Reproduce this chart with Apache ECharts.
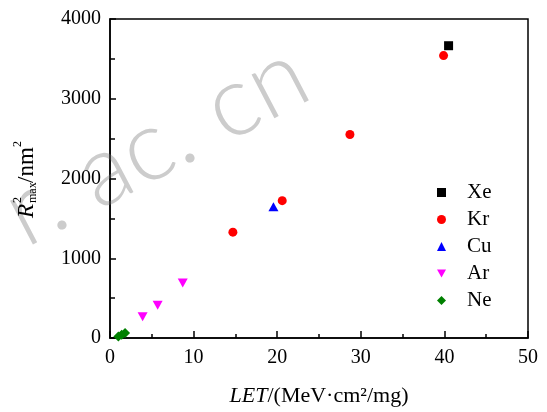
<!DOCTYPE html>
<html lang="en">
<head>
    <meta charset="UTF-8">
    <title>R2max vs LET</title>
    <script src="https://cdn.jsdelivr.net/npm/echarts@6/dist/echarts.min.js"></script>
    <style>
        html, body { margin: 0; padding: 0; background: #fff; }
    </style>
</head>
<body>
<div id="main" style="width: 547px;height:412px;"></div>
<script type="text/javascript">
    // 数据
    const ions = ["Xe", "Kr", "Cu", "Ar", "Ne"];
    const xeLET = [40.5];
    const xeR2 = [3665];
    const krLET = [14.7, 20.6, 28.7, 39.9];
    const krR2 = [1327, 1722, 2552, 3541];
    const cuLET = [19.55];
    const cuR2 = [1645];
    const arLET = [3.9, 5.7, 8.7];
    const arR2 = [265, 410, 690];
    const neLET = [1.0, 1.4, 1.8];
    const neR2 = [20, 40, 62];
    const xTicks = [0, 10, 20, 30, 40, 50];
    const yTicks = [0, 1000, 2000, 3000, 4000];

    const serif = "'Liberation Serif', 'Times New Roman', serif";

    function pairs(xs, ys) {
        return xs.map(function (x, i) {
            return [x, ys[i]];
        });
    }

    const seriesDefs = [
        {name: "Xe", data: pairs(xeLET, xeR2), symbol: "rect", symbolSize: 9, color: "#000000"},
        {name: "Kr", data: pairs(krLET, krR2), symbol: "circle", symbolSize: 9, color: "#ff0000"},
        {name: "Cu", data: pairs(cuLET, cuR2), symbol: "triangle", symbolSize: [10, 9], color: "#0000ff"},
        {name: "Ar", data: pairs(arLET, arR2), symbol: "path://M0,0 L10,0 L5,9 Z", symbolSize: [10, 9], color: "#ff00ff"},
        {name: "Ne", data: pairs(neLET, neR2), symbol: "diamond", symbolSize: 10, color: "#008000"}
    ];

    var myChart = echarts.init(document.getElementById('main'));
    myChart.setOption({
        animation: false,
        backgroundColor: "#fff",
        grid: {
            left: 110, right: 19, top: 19, bottom: 65,
            show: true, borderColor: "#000", borderWidth: 1.5
        },
        legend: {
            data: ions,
            orient: "vertical",
            left: 432,
            top: 177,
            itemWidth: 9,
            itemHeight: 9,
            itemGap: 6,
            textStyle: {fontFamily: serif, fontSize: 21, color: "#000", lineHeight: 20, padding: [0, 0, 0, 16]}
        },
        xAxis: {
            type: "value",
            min: xTicks[0],
            max: xTicks[xTicks.length - 1],
            interval: 10,
            name: "{i|LET}/(MeV·cm²/mg)",
            nameLocation: "middle",
            nameGap: 47,
            nameTextStyle: {
                fontFamily: serif, fontSize: 22, color: "#000",
                rich: {i: {fontFamily: serif, fontSize: 22, fontStyle: "italic", color: "#000"}}
            },
            axisLine: {show: true, lineStyle: {color: "#000", width: 1.5}},
            axisTick: {show: true, inside: true, length: 7, lineStyle: {color: "#000", width: 1.5}},
            minorTick: {show: true, splitNumber: 2, length: 4, lineStyle: {color: "#000", width: 1.5}},
            splitLine: {show: false},
            axisLabel: {fontFamily: serif, fontSize: 20, color: "#000", margin: 10}
        },
        yAxis: {
            type: "value",
            min: yTicks[0],
            max: yTicks[yTicks.length - 1],
            interval: 1000,
            axisLine: {show: true, lineStyle: {color: "#000", width: 1.5}},
            axisTick: {show: true, inside: true, length: 6, lineStyle: {color: "#000", width: 1.5}},
            minorTick: {show: true, splitNumber: 2, length: 5, lineStyle: {color: "#000", width: 1.5}},
            splitLine: {show: false},
            axisLabel: {
                fontFamily: serif, fontSize: 20, color: "#000", margin: 9,
                formatter: function (v) { return String(v); }
            }
        },
        graphic: [
            {
                // 水印
                type: "text",
                x: 11, y: 220,
                rotation: 0.482,
                z: 0,
                silent: true,
                style: {
                    text: "r. ac. cn",
                    fontFamily: "Lato, 'Liberation Sans', sans-serif",
                    fontWeight: 300,
                    fontSize: 99,
                    fill: "#cccccc",
                    textAlign: "left",
                    textVerticalAlign: "middle"
                }
            },
            {
                // 纵轴标题 R²max/nm²
                type: "group",
                x: 27, y: 218,
                rotation: Math.PI / 2,
                children: [
                    {type: "text", x: 0, y: 0, style: {text: "R", fontFamily: serif, fontSize: 23, fontStyle: "italic", fill: "#000", textAlign: "left", textVerticalAlign: "middle"}},
                    {type: "text", x: 15, y: -9, style: {text: "2", fontFamily: serif, fontSize: 12, fill: "#000", textAlign: "left", textVerticalAlign: "middle"}},
                    {type: "text", x: 15, y: 6, style: {text: "max", fontFamily: serif, fontSize: 12, fill: "#000", textAlign: "left", textVerticalAlign: "middle"}},
                    {type: "text", x: 35, y: 0, style: {text: "/nm", fontFamily: serif, fontSize: 23, fill: "#000", textAlign: "left", textVerticalAlign: "middle"}},
                    {type: "text", x: 71, y: -9, style: {text: "2", fontFamily: serif, fontSize: 12, fill: "#000", textAlign: "left", textVerticalAlign: "middle"}}
                ]
            }
        ],
        series: seriesDefs.map(function (s) {
            return {
                name: s.name,
                type: "scatter",
                data: s.data,
                symbol: s.symbol,
                symbolSize: s.symbolSize,
                itemStyle: {color: s.color, opacity: 1},
                z: 3
            };
        })
    });
</script>
</body>
</html>
